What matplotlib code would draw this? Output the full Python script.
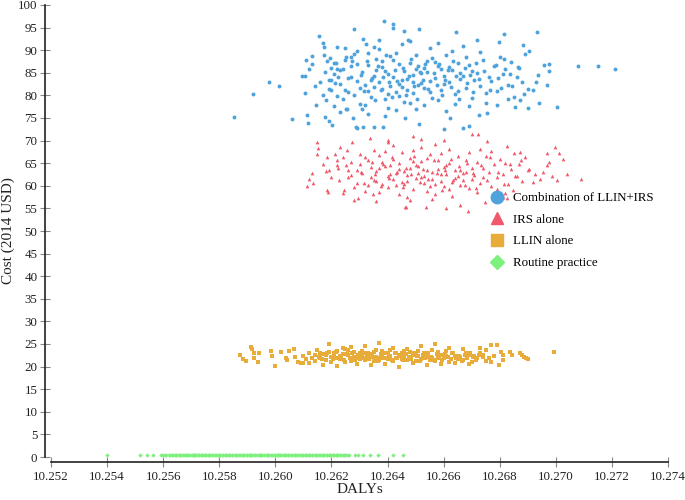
import matplotlib.pyplot as plt
from matplotlib.lines import Line2D

# ---- data (DALYs, cost in 2014 USD) ----
combo_pts = [
    # sparse edge points
    (10.25854, 75.2), (10.25921, 80.4), (10.25978, 83.0), (10.26013, 82.1), (10.26060, 74.7),
    (10.26095, 84.3), (10.26106, 84.3), (10.26107, 80.6), (10.26113, 75.6), (10.26115, 74.0),
    (10.26131, 88.7), (10.26130, 87.0), (10.26108, 87.9), (10.26146, 77.8), (10.26156, 93.2),
    (10.26172, 90.8), (10.26177, 85.2), (10.26172, 88.9), (10.26183, 87.6), (10.26170, 80.1),
    (10.26178, 75.2), (10.26192, 74.4), (10.26201, 73.4), (10.26194, 88.2), (10.26190, 83.4),
    (10.26200, 83.4), (10.26192, 81.4), (10.26200, 81.2), (10.26208, 87.2), (10.26216, 87.2),
    (10.26219, 90.8), (10.26223, 84.1), (10.26212, 82.7), (10.26220, 79.9), (10.26230, 85.6),
    (10.26241, 85.8), (10.26251, 88.6), (10.26253, 77.0), (10.26260, 80.8), (10.26269, 88.4),
    (10.26274, 87.6), (10.26281, 94.7), (10.26278, 74.9), (10.26290, 72.7), (10.26292, 89.9),
    (10.26314, 92.4), (10.26324, 91.4), (10.26331, 89.3), (10.26370, 92.3), (10.26386, 96.5),
    (10.26421, 95.9), (10.26418, 94.9), (10.26458, 94.2), (10.26474, 92.3), (10.26512, 94.8),
    (10.26644, 94.0), (10.26817, 93.5), (10.26934, 94.0), (10.26718, 92.3), (10.26799, 91.9),
    (10.26882, 91.2), (10.26906, 89.8), (10.26977, 86.9), (10.26958, 86.7), (10.27080, 86.6),
    (10.27151, 86.6), (10.27211, 85.8), (10.26977, 85.5), (10.26938, 84.5), (10.26930, 83.0),
    (10.26919, 81.3), (10.26967, 82.3), (10.27003, 77.4), (10.26940, 78.4), (10.26901, 77.3),
    (10.26872, 79.0), (10.26855, 77.5), (10.26831, 79.1), (10.26806, 81.6), (10.26254, 77.0),
    (10.26288, 72.9), (10.26314, 72.9), (10.26350, 73.1), (10.26385, 72.9), (10.26462, 74.9),
    (10.26513, 73.7), (10.26601, 72.6), (10.26670, 72.7), (10.26690, 73.2), (10.26623, 74.9),
    (10.26727, 75.7), (10.26754, 76.0),
    (10.2625, 90.5), (10.2621, 77.6), (10.2616, 83.0), (10.2618, 78.9), (10.2614, 82.0),
    (10.2612, 85.8), (10.2620, 86.0), (10.2617, 91.6),
    # dense core
    (10.2622, 85.9), (10.2623, 82.6), (10.2624, 79.3), (10.2625, 87.9), (10.2626, 83.8),
    (10.2623, 76.4), (10.2625, 81.2), (10.2621, 84.7),
    (10.2627, 86.4), (10.2628, 80.1), (10.2629, 83.2), (10.2630, 78.2), (10.2631, 85.1),
    (10.2628, 89.2), (10.2630, 81.7), (10.2629, 87.0), (10.2631, 76.9), (10.2627, 84.0),
    (10.2632, 82.4), (10.2633, 86.8), (10.2634, 79.6), (10.2635, 84.3), (10.2636, 88.1),
    (10.2633, 80.9), (10.2635, 90.6), (10.2632, 77.8), (10.2634, 83.5), (10.2636, 85.7),
    (10.2633, 75.9), (10.2635, 81.8),
    (10.2637, 83.0), (10.2638, 86.2), (10.2639, 79.1), (10.2640, 84.8), (10.2641, 88.7),
    (10.2638, 81.4), (10.2640, 77.3), (10.2637, 90.2), (10.2639, 85.3), (10.2641, 82.1),
    (10.2638, 87.6), (10.2640, 80.3), (10.2639, 75.4),
    (10.2642, 84.1), (10.2643, 80.7), (10.2644, 86.9), (10.2645, 83.3), (10.2646, 78.6),
    (10.2643, 89.4), (10.2645, 81.9), (10.2642, 87.8), (10.2644, 82.6), (10.2646, 85.4),
    (10.2643, 76.8), (10.2645, 91.3), (10.2644, 79.9),
    (10.2647, 83.7), (10.2648, 87.2), (10.2649, 80.5), (10.2650, 85.9), (10.2651, 82.2),
    (10.2648, 78.4), (10.2650, 89.0), (10.2647, 81.1), (10.2649, 84.6), (10.2651, 86.5),
    (10.2648, 92.1), (10.2650, 77.0), (10.2649, 83.0),
    (10.2652, 84.9), (10.2653, 81.6), (10.2654, 87.7), (10.2655, 83.1), (10.2656, 79.4),
    (10.2653, 86.0), (10.2655, 90.4), (10.2652, 82.7), (10.2654, 85.2), (10.2656, 88.3),
    (10.2653, 77.9), (10.2655, 80.8),
    (10.2657, 83.9), (10.2658, 86.6), (10.2659, 81.3), (10.2660, 84.4), (10.2661, 88.9),
    (10.2658, 79.0), (10.2660, 82.5), (10.2657, 87.4), (10.2659, 85.8), (10.2661, 76.5),
    (10.2658, 91.7),
    (10.2662, 82.9), (10.2663, 85.6), (10.2664, 80.2), (10.2665, 87.1), (10.2666, 83.6),
    (10.2663, 89.8), (10.2665, 81.0), (10.2662, 86.3), (10.2664, 78.1), (10.2666, 84.9),
    (10.2667, 84.2), (10.2668, 81.7), (10.2669, 86.8), (10.2670, 79.5), (10.2671, 83.4),
    (10.2668, 88.4), (10.2670, 85.5), (10.2667, 90.9), (10.2669, 77.6),
    (10.2672, 85.0), (10.2673, 82.0), (10.2674, 87.9), (10.2675, 80.6), (10.2676, 84.1),
    (10.2673, 89.6), (10.2675, 78.3),
    (10.2677, 83.2), (10.2678, 86.4), (10.2679, 80.9), (10.2680, 88.6), (10.2681, 84.7),
    (10.2679, 77.8),
    (10.2682, 85.8), (10.2683, 82.4), (10.2684, 87.3), (10.2685, 79.7), (10.2686, 84.0),
    (10.2687, 86.1), (10.2688, 83.0), (10.2689, 89.1), (10.2690, 81.5),
    (10.26305, 84.6), (10.26315, 80.9), (10.26325, 87.5), (10.26345, 83.9), (10.26355, 78.9),
    (10.26365, 86.5), (10.26375, 81.1), (10.26385, 84.1), (10.26395, 88.9), (10.26405, 82.9),
    (10.26415, 79.7), (10.26425, 85.6), (10.26435, 83.1), (10.26455, 86.1), (10.26465, 80.1),
    (10.26475, 84.4), (10.26485, 88.0), (10.26495, 82.1), (10.26505, 79.2), (10.26515, 85.1),
    (10.26525, 83.4), (10.26535, 87.0), (10.26545, 81.4), (10.26565, 84.9), (10.26575, 82.3),
    (10.26585, 86.9), (10.26595, 80.0), (10.26605, 83.3), (10.26615, 85.7), (10.26625, 81.8),
    (10.26635, 87.6), (10.26645, 84.3), (10.26655, 79.1), (10.26675, 86.0), (10.26685, 82.7),
    (10.26695, 84.6), (10.26705, 80.8), (10.26715, 87.1), (10.26725, 83.7), (10.26745, 85.3),
    (10.26765, 81.2), (10.26785, 86.7), (10.26795, 83.9), (10.26815, 88.1), (10.26835, 84.8),
    (10.26845, 82.0), (10.26865, 86.3), (10.26885, 80.4),
]

irs_pts = [
    # sparse edge points
    (10.26147, 69.8), (10.26153, 68.3), (10.26150, 67.0), (10.26183, 66.4), (10.26130, 62.8),
    (10.26112, 60.0), (10.26135, 60.7), (10.26120, 61.5), (10.26180, 63.3), (10.26190, 63.5),
    (10.26187, 58.6), (10.26213, 67.0), (10.26220, 65.6), (10.26218, 64.5), (10.26222, 63.9),
    (10.26228, 61.3), (10.26241, 58.4), (10.26245, 59.1), (10.26254, 67.9), (10.26240, 66.4),
    (10.26251, 64.7), (10.26260, 63.4), (10.26183, 59.1), (10.26272, 69.8), (10.26296, 57.4),
    (10.26337, 70.6), (10.26347, 58.2), (10.26403, 69.8), (10.26465, 55.2), (10.26492, 71.0),
    (10.26537, 55.2), (10.26607, 55.0), (10.26700, 71.5), (10.26722, 71.5), (10.26754, 70.0),
    (10.26825, 68.8), (10.26872, 67.5), (10.26967, 67.3), (10.26997, 68.6), (10.27012, 67.3),
    (10.27027, 65.9), (10.27090, 61.4), (10.27003, 61.3), (10.26976, 65.3), (10.26970, 64.6),
    (10.26944, 61.4), (10.26920, 60.9), (10.26848, 59.1), (10.26812, 57.5), (10.26826, 57.4),
    (10.26748, 56.5), (10.26658, 55.8), (10.26688, 54.5), (10.26462, 55.3),
    (10.2620, 61.9), (10.2617, 64.8), (10.2623, 68.6), (10.2628, 56.9), (10.2636, 56.6),
    (10.2648, 56.9), (10.2656, 57.0), (10.2640, 70.2), (10.2652, 70.3), (10.2660, 70.1),
    # dense core
    (10.2626, 61.9), (10.2627, 65.2), (10.2628, 59.8), (10.2629, 63.6), (10.2630, 67.1),
    (10.2627, 62.4), (10.2629, 60.7), (10.2630, 64.8),
    (10.2631, 62.9), (10.2632, 66.3), (10.2633, 60.2), (10.2634, 64.1), (10.2635, 68.0),
    (10.2632, 58.9), (10.2634, 62.0), (10.2633, 65.7), (10.2635, 61.3),
    (10.2636, 63.2), (10.2637, 66.8), (10.2638, 60.5), (10.2639, 64.4), (10.2640, 62.1),
    (10.2637, 58.6), (10.2639, 67.6), (10.2636, 61.0), (10.2638, 65.3), (10.2640, 59.7),
    (10.2637, 63.9),
    (10.2641, 62.6), (10.2642, 65.9), (10.2643, 60.1), (10.2644, 63.8), (10.2645, 67.4),
    (10.2642, 61.4), (10.2644, 58.2), (10.2641, 64.7), (10.2643, 62.9), (10.2645, 60.8),
    (10.2642, 69.0), (10.2644, 65.1),
    (10.2646, 63.3), (10.2647, 61.0), (10.2648, 66.2), (10.2649, 59.4), (10.2650, 64.6),
    (10.2647, 62.3), (10.2649, 67.9), (10.2646, 60.3), (10.2648, 63.9), (10.2650, 61.7),
    (10.2647, 57.6), (10.2649, 65.5),
    (10.2651, 62.8), (10.2652, 65.4), (10.2653, 60.6), (10.2654, 63.5), (10.2655, 67.0),
    (10.2652, 61.9), (10.2654, 58.8), (10.2651, 64.3), (10.2653, 62.2), (10.2655, 60.0),
    (10.2652, 68.5), (10.2654, 66.1),
    (10.2656, 63.0), (10.2657, 60.4), (10.2658, 65.8), (10.2659, 62.5), (10.2660, 64.2),
    (10.2657, 58.1), (10.2659, 67.3), (10.2656, 61.6), (10.2658, 63.7), (10.2660, 59.9),
    (10.2657, 69.3), (10.2659, 61.1),
    (10.2661, 62.7), (10.2662, 65.0), (10.2663, 60.9), (10.2664, 63.4), (10.2665, 66.7),
    (10.2662, 59.3), (10.2664, 61.8), (10.2661, 64.5), (10.2663, 57.7), (10.2665, 62.2),
    (10.2662, 68.2),
    (10.2666, 63.6), (10.2667, 61.2), (10.2668, 65.6), (10.2669, 59.6), (10.2670, 64.0),
    (10.2667, 62.8), (10.2669, 67.4), (10.2666, 60.2), (10.2668, 63.1), (10.2670, 61.5),
    (10.2671, 62.4), (10.2672, 65.3), (10.2673, 60.7), (10.2674, 63.9), (10.2675, 66.6),
    (10.2672, 58.7), (10.2674, 61.9), (10.2673, 68.1),
    (10.2676, 63.0), (10.2677, 60.0), (10.2678, 64.8), (10.2679, 62.0), (10.2680, 66.0),
    (10.2677, 67.8), (10.2679, 59.2),
    (10.2681, 62.6), (10.2682, 65.1), (10.2683, 60.5), (10.2684, 63.7), (10.2685, 67.2),
    (10.2682, 58.4),
    (10.2686, 62.2), (10.2687, 64.9), (10.2688, 61.0), (10.2689, 66.4), (10.2690, 63.5),
    (10.26305, 63.0), (10.26315, 60.6), (10.26345, 65.2), (10.26355, 62.7), (10.26375, 60.0),
    (10.26385, 64.8), (10.26405, 61.7), (10.26415, 66.4), (10.26435, 63.1), (10.26455, 59.8),
    (10.26465, 64.0), (10.26485, 62.5), (10.26495, 66.7), (10.26515, 60.9), (10.26525, 63.8),
    (10.26545, 61.5), (10.26565, 65.6), (10.26575, 62.9), (10.26595, 59.1), (10.26605, 63.4),
    (10.26625, 66.0), (10.26635, 61.3), (10.26655, 64.3), (10.26675, 60.1), (10.26685, 65.0),
    (10.26705, 62.8), (10.26715, 59.5), (10.26735, 64.5), (10.26755, 61.2), (10.26765, 66.3),
    (10.26795, 63.1), (10.26815, 60.4), (10.26835, 64.9), (10.26855, 62.1), (10.26875, 65.7),
    (10.26905, 63.8), (10.26925, 62.6), (10.26955, 63.0), (10.26985, 62.2), (10.27040, 62.7),
]

llin_pts = [
    # sparse edge points
    (10.25874, 22.6), (10.25886, 21.6), (10.25894, 21.3), (10.25913, 24.3), (10.25916, 23.8),
    (10.25925, 22.9), (10.25925, 21.8), (10.25943, 22.9), (10.25939, 21.1), (10.25983, 23.5),
    (10.25987, 22.3), (10.25999, 20.2), (10.26020, 23.3), (10.26038, 21.9), (10.26043, 21.4),
    (10.26050, 23.5), (10.26065, 23.9), (10.26070, 22.2), (10.26082, 21.1), (10.26092, 20.9),
    (10.26099, 20.9),
    (10.26740, 22.5), (10.26752, 23.6), (10.26770, 24.8), (10.26790, 24.8), (10.26812, 21.4),
    (10.26810, 22.5), (10.26806, 23.3), (10.26837, 23.2), (10.26845, 22.6), (10.26872, 23.0),
    (10.26880, 22.6), (10.26887, 22.1), (10.26895, 21.9), (10.26902, 21.6), (10.26799, 20.4),
    (10.26995, 23.3),
    # dense core
    (10.2610, 22.4), (10.2611, 21.7), (10.2612, 23.1), (10.2613, 22.0), (10.2614, 21.2),
    (10.2615, 23.6), (10.2612, 20.8), (10.2614, 22.6),
    (10.2616, 21.9), (10.2617, 22.8), (10.2618, 21.4), (10.2619, 23.3), (10.2620, 22.2),
    (10.2617, 20.4), (10.2619, 24.9), (10.2616, 23.0), (10.2618, 22.5), (10.2620, 21.0),
    (10.2621, 22.1), (10.2622, 23.4), (10.2623, 21.6), (10.2624, 22.7), (10.2625, 21.1),
    (10.2622, 20.2), (10.2624, 24.1), (10.2621, 23.0), (10.2623, 22.3), (10.2625, 23.8),
    (10.2622, 21.9),
    (10.2626, 22.5), (10.2627, 21.3), (10.2628, 23.2), (10.2629, 22.0), (10.2630, 21.7),
    (10.2627, 24.4), (10.2629, 20.6), (10.2626, 23.6), (10.2628, 22.2), (10.2630, 22.9),
    (10.2627, 21.8),
    (10.2631, 22.4), (10.2632, 21.5), (10.2633, 23.0), (10.2634, 22.1), (10.2635, 21.2),
    (10.2632, 24.6), (10.2634, 20.3), (10.2631, 23.5), (10.2633, 22.6), (10.2635, 23.2),
    (10.2632, 21.9),
    (10.2636, 22.2), (10.2637, 21.4), (10.2638, 23.4), (10.2639, 22.0), (10.2640, 21.6),
    (10.2637, 25.3), (10.2639, 20.5), (10.2636, 23.7), (10.2638, 22.5), (10.2640, 23.0),
    (10.2637, 21.9),
    (10.2641, 22.3), (10.2642, 21.3), (10.2643, 23.1), (10.2644, 22.4), (10.2645, 21.7),
    (10.2642, 24.2), (10.2644, 19.9), (10.2641, 23.6), (10.2643, 22.0), (10.2645, 23.0),
    (10.2646, 22.1), (10.2647, 21.5), (10.2648, 23.3), (10.2649, 22.6), (10.2650, 21.2),
    (10.2647, 24.0), (10.2649, 20.7), (10.2646, 23.5), (10.2648, 22.0), (10.2650, 22.8),
    (10.2651, 22.4), (10.2652, 21.6), (10.2653, 23.0), (10.2654, 22.2), (10.2655, 21.4),
    (10.2652, 24.5), (10.2654, 20.4), (10.2651, 23.4), (10.2653, 22.7),
    (10.2656, 22.0), (10.2657, 21.3), (10.2658, 23.2), (10.2659, 22.5), (10.2660, 21.8),
    (10.2657, 25.0), (10.2659, 20.6), (10.2656, 23.7), (10.2658, 22.1),
    (10.2661, 22.3), (10.2662, 21.1), (10.2663, 23.0), (10.2664, 22.4), (10.2665, 21.6),
    (10.2662, 24.1), (10.2664, 20.8), (10.2661, 23.5),
    (10.2666, 22.2), (10.2667, 21.4), (10.2668, 23.1), (10.2669, 22.5), (10.2670, 21.0),
    (10.2667, 23.9), (10.2669, 20.6),
    (10.2671, 22.4), (10.2672, 21.8), (10.2673, 23.0), (10.2674, 22.1), (10.2675, 21.3),
    (10.2673, 24.2),
    (10.26155, 22.2), (10.26165, 21.6), (10.26185, 22.9), (10.26205, 21.7), (10.26215, 23.2),
    (10.26235, 22.0), (10.26245, 21.5), (10.26255, 22.8), (10.26265, 22.0), (10.26275, 23.0),
    (10.26285, 21.4), (10.26295, 22.6), (10.26305, 21.9), (10.26315, 23.1), (10.26325, 22.3),
    (10.26335, 21.6), (10.26345, 22.8), (10.26355, 22.0), (10.26365, 21.3), (10.26375, 22.7),
    (10.26385, 21.8), (10.26395, 23.0), (10.26405, 22.2), (10.26415, 21.5), (10.26425, 22.9),
    (10.26435, 21.9), (10.26445, 22.6), (10.26455, 21.4), (10.26465, 22.8), (10.26475, 22.1),
    (10.26485, 21.7), (10.26495, 23.1), (10.26505, 22.3), (10.26515, 21.2), (10.26525, 22.6),
    (10.26535, 21.9), (10.26545, 23.0), (10.26555, 22.1), (10.26565, 21.5), (10.26575, 22.7),
    (10.26585, 22.0), (10.26595, 21.4), (10.26605, 22.8), (10.26615, 22.2), (10.26625, 21.6),
    (10.26635, 22.9), (10.26645, 21.9), (10.26655, 22.4), (10.26665, 21.2), (10.26675, 22.6),
    (10.26685, 21.8), (10.26695, 22.9), (10.26705, 22.1), (10.26715, 21.5), (10.26725, 22.5),
    (10.26760, 21.9), (10.26780, 22.3), (10.26770, 21.1),
]

routine_dalys = [
    10.25401, 10.25517, 10.25541, 10.25565, 10.25591,
    10.25600, 10.25611, 10.25619, 10.25630, 10.25642, 10.25650, 10.25659, 10.25671, 10.25680,
    10.25689, 10.25701, 10.25710, 10.25718, 10.25729, 10.25740, 10.25749, 10.25760, 10.25768,
    10.25779, 10.25790, 10.25798, 10.25809, 10.25820, 10.25829, 10.25838, 10.25850, 10.25859,
    10.25869, 10.25880, 10.25888, 10.25899, 10.25910, 10.25918, 10.25929, 10.25940, 10.25948,
    10.25959, 10.25970, 10.25979, 10.25988, 10.26000, 10.26009, 10.26018, 10.26030, 10.26039,
    10.26048, 10.26060, 10.26069, 10.26079, 10.26090, 10.26099, 10.26108, 10.26120, 10.26129,
    10.26140, 10.26150, 10.26159, 10.26170, 10.26179, 10.26190, 10.26199, 10.26210, 10.26219,
    10.26230, 10.26240, 10.26250, 10.26262,
    10.25605, 10.25624, 10.25636, 10.25646, 10.25655, 10.25665, 10.25676, 10.25685, 10.25695,
    10.25705, 10.25714, 10.25724, 10.25735, 10.25745, 10.25754, 10.25765, 10.25773, 10.25784,
    10.25794, 10.25804, 10.25815, 10.25825, 10.25834, 10.25844, 10.25855, 10.25864, 10.25874,
    10.25884, 10.25894, 10.25905, 10.25914, 10.25924, 10.25935, 10.25944, 10.25954, 10.25965,
    10.25975, 10.25984, 10.25994, 10.26005, 10.26014, 10.26024, 10.26035, 10.26044, 10.26054,
    10.26065, 10.26074, 10.26085, 10.26095, 10.26104, 10.26114, 10.26125, 10.26135, 10.26145,
    10.26155, 10.26165, 10.26175, 10.26185, 10.26195, 10.26205, 10.26215, 10.26225, 10.26235,
    10.26245, 10.26256,
    10.26284, 10.26296, 10.26314, 10.26338, 10.26367, 10.26421, 10.26456,
]
routine_cost = 0.4

labels = ['Combination of LLIN+IRS', 'IRS alone', 'LLIN alone', 'Routine practice']
colors = ['#4fa3dc', '#f0586c', '#e8ac3a', '#7ef07e']
markers = ['o', '^', 's', 'D']

x_ticks = [10.252, 10.254, 10.256, 10.258, 10.260, 10.262, 10.264,
           10.266, 10.268, 10.270, 10.272, 10.274]
y_ticks = list(range(0, 101, 5))

plt.rcParams['font.family'] = ['Liberation Serif', 'DejaVu Serif']

fig = plt.figure(figsize=(6.85, 5), dpi=100)
ax = fig.add_axes([51 / 685, 43 / 500, 617 / 685, 452 / 500])

series = [combo_pts, irs_pts, llin_pts]
sizes = [8, 7, 8]
for pts, c, m, s in zip(series, colors[:3], markers[:3], sizes):
    xs = [p[0] for p in pts]
    ys = [p[1] for p in pts]
    ax.scatter(xs, ys, s=s, marker=m, color=c, linewidths=0, zorder=3)
ax.scatter(routine_dalys, [routine_cost] * len(routine_dalys), s=5, marker='D',
           color=colors[3], linewidths=0, zorder=3)

ax.set_xlim(x_ticks[0], x_ticks[-1])
ax.set_ylim(0, 100)
ax.set_xticks(x_ticks)
ax.set_xticklabels(['%.3f' % t for t in x_ticks])
ax.set_yticks(y_ticks)

for side in ['top', 'right']:
    ax.spines[side].set_visible(False)
ax.spines['left'].set_position(('outward', 4.3))
ax.spines['bottom'].set_position(('outward', 3.6))
for side in ['left', 'bottom']:
    ax.spines[side].set_linewidth(1.2)
    ax.spines[side].set_color('#222222')
ax.tick_params(direction='inout', length=7, width=0.8, color='#888888',
               labelsize=9.4, labelcolor='#222222')
ax.tick_params(axis='y', pad=2)
ax.tick_params(axis='x', pad=3)

ax.set_xlabel('DALYs', fontsize=11, color='#222222')
ax.set_ylabel('Cost (2014 USD)', fontsize=11, color='#222222')
ax.xaxis.set_label_coords(0.5, -0.058)
ax.yaxis.set_label_coords(-0.058, 0.5)

handles = [Line2D([], [], linestyle='none', marker=m, color=c, markersize=ms)
           for m, c, ms in zip(markers, colors, [9, 8.5, 8, 7.5])]
fig.legend(handles, labels, loc='upper left', bbox_to_anchor=(489 / 685, 1 - 192 / 500),
           frameon=False, fontsize=9.3, borderpad=0, handlelength=1.2,
           handletextpad=0.63, labelspacing=0.75, borderaxespad=0)

fig.savefig('out.png', dpi=100)
